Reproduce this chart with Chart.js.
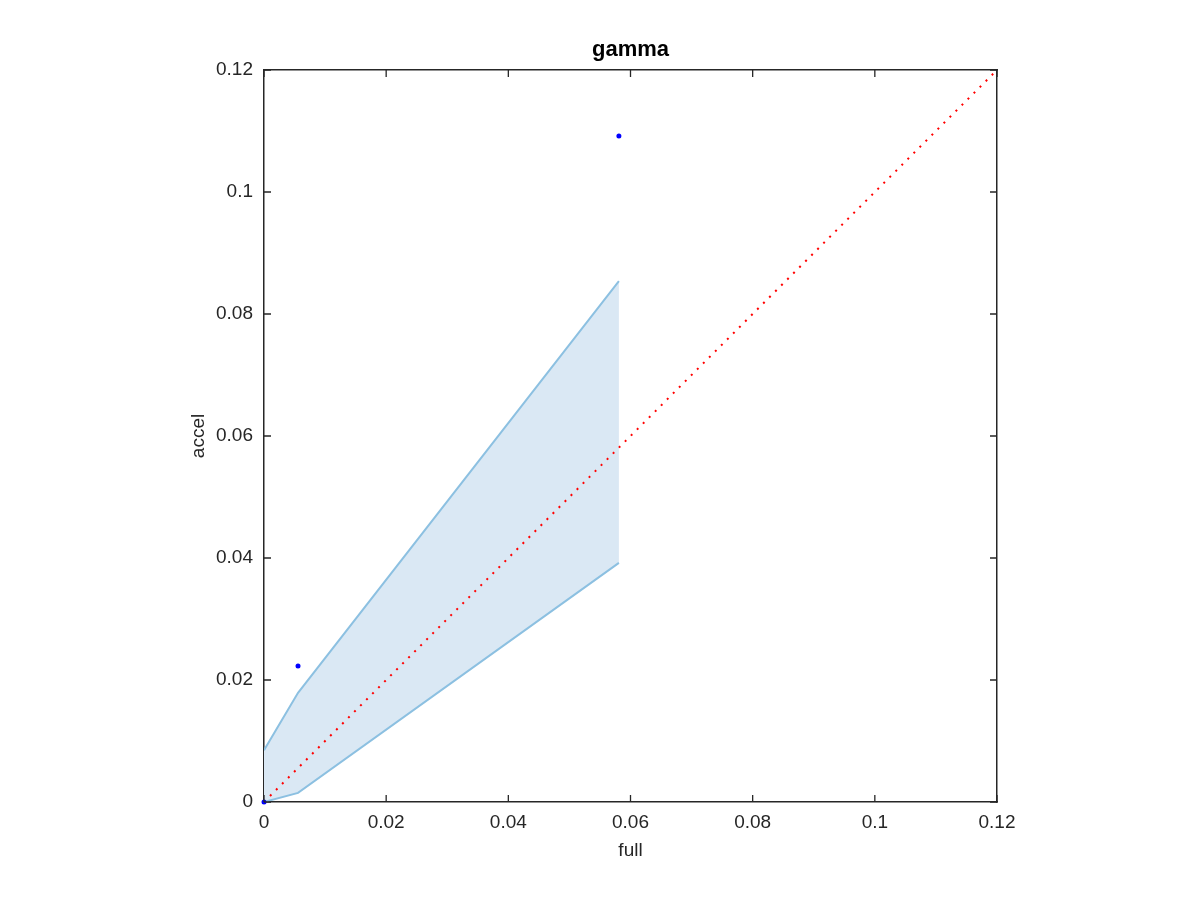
<!DOCTYPE html>
<html>
<head>
<meta charset="utf-8">
<script src="https://cdn.jsdelivr.net/npm/chart.js@4"></script>
<style>
  body { margin: 0; background: #fff; }
</style>
</head>
<body>
<canvas id="gammaChart" width="1200" height="900"></canvas>
<script>
// values
const tickValues = [0, 0.02, 0.04, 0.06, 0.08, 0.1, 0.12];
const tickLabels = ['0', '0.02', '0.04', '0.06', '0.08', '0.1', '0.12'];

const fullX = [0, 0.00557, 0.0581];
const accelY = [0, 0.0223, 0.1092];
const bandUpper = [0.0085, 0.0179, 0.0854];
const bandLower = [0, 0.0015, 0.0392];
const diagX = [0, 0.12];

const axisColor = '#262626';
const fontFamily = '"Liberation Sans", Arial, Helvetica, sans-serif';

const toPoints = (xs, ys) => xs.map((x, i) => ({ x, y: ys[i] }));

// inward tick marks on all four sides of the box
const boxTicks = {
  id: 'boxTicks',
  afterDatasetsDraw(chart) {
    const { ctx, chartArea: a, scales } = chart;
    const len = 7;
    ctx.save();
    ctx.strokeStyle = axisColor;
    ctx.lineWidth = 1.3;
    ctx.beginPath();
    tickValues.forEach(v => {
      const px = scales.x.getPixelForValue(v);
      const py = scales.y.getPixelForValue(v);
      ctx.moveTo(px, a.bottom); ctx.lineTo(px, a.bottom - len);
      ctx.moveTo(px, a.top); ctx.lineTo(px, a.top + len);
      ctx.moveTo(a.left, py); ctx.lineTo(a.left + len, py);
      ctx.moveTo(a.right, py); ctx.lineTo(a.right - len, py);
    });
    ctx.stroke();
    ctx.restore();
  }
};

const hiddenAxis = (position, fit) => ({
  type: 'linear',
  position,
  min: 0,
  max: 0.12,
  grid: { display: true, drawOnChartArea: false, drawTicks: false },
  border: { display: true, color: axisColor, width: 1.5 },
  ticks: { display: false, stepSize: 0.02 },
  afterFit: fit
});

new Chart(document.getElementById('gammaChart'), {
  type: 'scatter',
  data: {
    datasets: [
      {
        label: 'points',
        data: toPoints(fullX, accelY),
        showLine: false,
        pointRadius: 2.5,
        pointBackgroundColor: '#0000ff',
        pointBorderWidth: 0,
        clip: false,
        order: 0
      },
      {
        label: 'diagonal',
        data: toPoints(diagX, diagX),
        showLine: true,
        borderColor: '#ff0000',
        borderWidth: 2,
        borderDash: [2, 6.5],
        pointRadius: 0,
        order: 1
      },
      {
        label: 'upper',
        data: toPoints(fullX, bandUpper),
        showLine: true,
        borderColor: '#8cc0e1',
        borderWidth: 2,
        backgroundColor: '#dae8f4',
        fill: '+1',
        pointRadius: 0,
        order: 2
      },
      {
        label: 'lower',
        data: toPoints(fullX, bandLower),
        showLine: true,
        borderColor: '#8cc0e1',
        borderWidth: 2,
        fill: false,
        pointRadius: 0,
        order: 3
      }
    ]
  },
  options: {
    responsive: false,
    animation: false,
    layout: { padding: { left: 170, right: 109, top: 0, bottom: 0 } },
    plugins: {
      legend: { display: false },
      tooltip: { enabled: false },
      filler: { drawTime: 'beforeDatasetsDraw' },
      title: {
        display: true,
        text: 'gamma',
        color: '#000',
        font: { family: fontFamily, size: 22, weight: 'bold', lineHeight: 1.2 },
        padding: { top: 37, bottom: 0 }
      }
    },
    scales: {
      x: {
        type: 'linear',
        position: 'bottom',
        min: 0,
        max: 0.12,
        grid: { display: true, drawOnChartArea: false, drawTicks: false },
        border: { display: true, color: axisColor, width: 1.5 },
        ticks: {
          stepSize: 0.02,
          padding: 9,
          color: axisColor,
          maxRotation: 0,
          font: { family: fontFamily, size: 19 },
          callback: (v, i) => tickLabels[i]
        },
        title: {
          display: true,
          text: 'full',
          color: axisColor,
          font: { family: fontFamily, size: 19, lineHeight: 1.2 },
          padding: { top: 0, bottom: 38 }
        },
        afterFit: s => { s.height = 98; }
      },
      y: {
        type: 'linear',
        position: 'left',
        min: 0,
        max: 0.12,
        grid: { display: true, drawOnChartArea: false, drawTicks: false },
        border: { display: true, color: axisColor, width: 1.5 },
        ticks: {
          stepSize: 0.02,
          padding: 11,
          color: axisColor,
          font: { family: fontFamily, size: 19 },
          callback: (v, i) => tickLabels[i]
        },
        title: {
          display: true,
          text: 'accel',
          color: axisColor,
          font: { family: fontFamily, size: 19, lineHeight: 1.2 },
          padding: { top: 17, bottom: 0 }
        },
        afterFit: s => { s.width = 94; }
      },
      x2: hiddenAxis('top', s => { s.height = 6.6; }),
      y2: hiddenAxis('right', s => { s.width = 94; })
    }
  },
  plugins: [boxTicks]
});
</script>
</body>
</html>
